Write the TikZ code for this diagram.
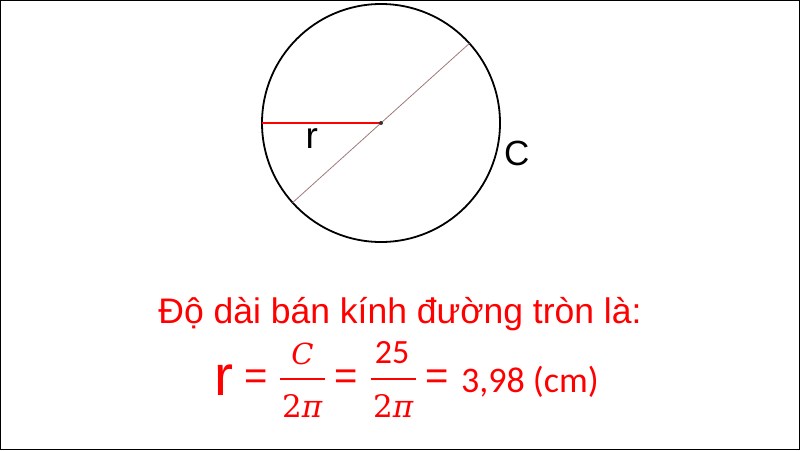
\documentclass[tikz,border=0pt]{standalone}
\usepackage{fontspec}
\setmainfont{Liberation Sans}
\newfontfamily\calib{Carlito}
\newfontfamily\serifm{DejaVu Serif}
\begin{document}
\begin{tikzpicture}[x=1pt,y=-1pt,
  lbl/.style={inner sep=0pt, outer sep=0pt},
  redtxt/.style={lbl, text=red},
  diam/.style={draw={rgb,255:red,160;green,120;blue,120}, line width=0.8pt},
  fracbar/.style={draw=red, line width=2pt}]
\useasboundingbox (0,0) rectangle (800,450);
\draw[line width=1pt] (0.5,0.5) rectangle (799.5,449.5);
% circle
\node[circle, draw, line width=1.8pt, minimum size=238pt, inner sep=0pt, outer sep=0pt] (circ) at (381,123) {};
\draw[diam] (circ.42) -- (circ.222);
\draw[red, line width=1.8pt] (circ.west) -- (circ.center);
\node[circle, fill=black!80, inner sep=0pt, minimum size=4pt] (dot) at (circ.center) {};
\node[lbl, anchor=base west, font=\fontsize{37}{40}\selectfont] (rl) at (305.5,148) {r};
\node[lbl, anchor=base west, font=\fontsize{35}{40}\selectfont] (cl) at (504,165) {C};
% title
\node[redtxt, anchor=base, font=\fontsize{35.5}{40}\selectfont] (title) at (400,323) {Độ dài bán kính đường tròn là:};
% equation
\node[redtxt, anchor=base west, font=\fontsize{57}{60}\selectfont] (er) at (214,395) {r};
\node[redtxt, anchor=center, font=\fontsize{40}{44}\selectfont] (eq1) at (256,380) {=};
\coordinate (b1l) at (280,379);
\coordinate (b1r) at (325,379);
\draw[fracbar] (b1l) -- (b1r);
\node[redtxt, anchor=base, font=\fontsize{29}{32}\selectfont\serifm\itshape] (n1) at (302.5,364) {C};
\node[redtxt, anchor=base, font=\fontsize{31}{34}\selectfont\serifm] (d1) at (302.5,417) {2\textit{π}};
\node[redtxt, anchor=center, font=\fontsize{40}{44}\selectfont] (eq2) at (346.5,380) {=};
\coordinate (b2l) at (371,379);
\coordinate (b2r) at (416,379);
\draw[fracbar] (b2l) -- (b2r);
\node[redtxt, anchor=base, font=\fontsize{34}{36}\selectfont\calib] (n2) at (392,363) {25};
\node[redtxt, anchor=base, font=\fontsize{31}{34}\selectfont\serifm] (d2) at (393.5,417) {2\textit{π}};
\node[redtxt, anchor=center, font=\fontsize{40}{44}\selectfont] (eq3) at (437.5,380) {=};
\node[redtxt, anchor=base west, font=\fontsize{36}{40}\selectfont\calib] (res) at (461,392) {3,98 (cm)};
\end{tikzpicture}
\end{document}
